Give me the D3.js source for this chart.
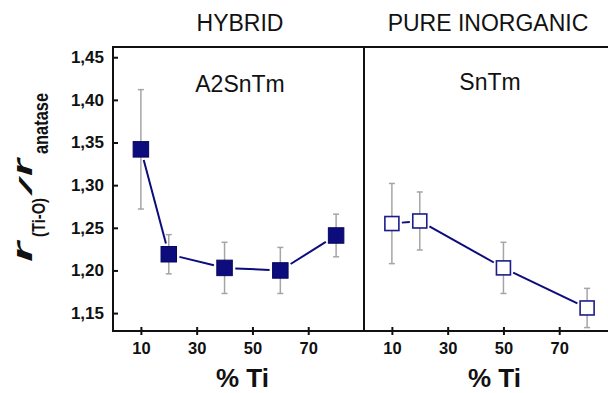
<!DOCTYPE html>
<html>
<head>
<meta charset="utf-8">
<script src="https://cdn.jsdelivr.net/npm/d3@7"></script>
<style>
  html, body { margin: 0; padding: 0; background: #fff; }
  svg { display: block; font-family: Arial, "Liberation Sans", sans-serif; }
</style>
</head>
<body>
<svg id="chart" width="608" height="393"></svg>
<script>
// ---- data ----
const hybridX = [10, 20, 40, 60, 80];
const hybridY = [1.342, 1.219, 1.203, 1.200, 1.241];
const hybridErr = [0.070, 0.023, 0.030, 0.027, 0.025];

const inorgX = [10, 20, 50, 80];
const inorgY = [1.255, 1.258, 1.203, 1.156];
const inorgErr = [0.047, 0.034, 0.030, 0.023];

const yTicks = [1.15, 1.20, 1.25, 1.30, 1.35, 1.40, 1.45];
const xTicks = [10, 30, 50, 70];
const panelTitles = ["HYBRID", "PURE INORGANIC"];
const sampleNames = ["A2SnTm", "SnTm"];
const xLabel = "% Ti";

(function () {
// ---- layout ----
const svg = d3.select("#chart");
const pLeft = 113, pMid = 364, pTop = 47, pBottom = 331;
const panelW = pMid - pLeft;

const y = d3.scaleLinear().domain([1.129, 1.462]).range([pBottom, pTop]);
const xL = d3.scaleLinear().domain([0, 90]).range([pLeft, pMid]);
const xR = d3.scaleLinear().domain([0, 90]).range([pMid, pMid + panelW]);

const navy = "#0c0c7c";
const locale = d3.formatLocale({decimal: ",", thousands: ".", grouping: [3], currency: ["", ""]});
const fmt = locale.format(".2f");

// ---- y axis ----
const yAxis = svg.append("g")
  .attr("transform", `translate(${pLeft},0)`)
  .call(d3.axisLeft(y).tickValues(yTicks).tickFormat(fmt).tickSize(-5).tickSizeOuter(0).tickPadding(9));
yAxis.select(".domain").remove();
yAxis.selectAll(".tick line").attr("stroke", "#111").attr("stroke-width", 2);
yAxis.selectAll(".tick text").attr("font-size", 17).attr("font-weight", "bold").attr("fill", "#111");

// ---- x axes ----
[xL, xR].forEach(xs => {
  const g = svg.append("g")
    .attr("transform", `translate(0,${pBottom})`)
    .call(d3.axisBottom(xs).tickValues(xTicks).tickSize(4).tickSizeOuter(0).tickPadding(7));
  g.select(".domain").remove();
  g.selectAll(".tick line").attr("stroke", "#111").attr("stroke-width", 2).attr("y1", -4);
  g.selectAll(".tick text").attr("font-size", 16.5).attr("font-weight", "bold").attr("fill", "#111");
});

// ---- frame ----
const frame = svg.append("g").attr("stroke", "#111").attr("stroke-width", 2).attr("fill", "none");
frame.append("line").attr("x1", pLeft).attr("x2", 608).attr("y1", pTop).attr("y2", pTop);
frame.append("line").attr("x1", pLeft).attr("x2", 608).attr("y1", pBottom).attr("y2", pBottom);
frame.append("line").attr("x1", pLeft).attr("x2", pLeft).attr("y1", pTop - 1).attr("y2", pBottom + 1);
frame.append("line").attr("x1", pMid).attr("x2", pMid).attr("y1", pTop).attr("y2", pBottom);

// ---- series ----
function drawSeries(xs, X, Y, E, filled, size) {
  const pts = X.map((v, i) => ({x: xs(v), y: y(Y[i]), lo: y(Y[i] - E[i]), hi: y(Y[i] + E[i])}));
  const g = svg.append("g");
  const eb = g.append("g").attr("stroke", "#a5a5a5").attr("stroke-width", 1.5);
  pts.forEach(p => {
    eb.append("line").attr("x1", p.x).attr("x2", p.x).attr("y1", p.hi).attr("y2", p.lo);
    eb.append("line").attr("x1", p.x - 3).attr("x2", p.x + 3).attr("y1", p.hi).attr("y2", p.hi);
    eb.append("line").attr("x1", p.x - 3).attr("x2", p.x + 3).attr("y1", p.lo).attr("y2", p.lo);
  });
  const h = size / 2, gap = 3;
  for (let i = 0; i < pts.length - 1; i++) {
    const a = pts[i], b = pts[i + 1];
    const dx = b.x - a.x, dy = b.y - a.y, L = Math.hypot(dx, dy);
    const ux = dx / L, uy = dy / L;
    const d = h / Math.max(Math.abs(ux), Math.abs(uy)) + gap;
    if (L > 2 * d) {
      g.append("line")
        .attr("x1", a.x + ux * d).attr("y1", a.y + uy * d)
        .attr("x2", b.x - ux * d).attr("y2", b.y - uy * d)
        .attr("stroke", navy).attr("stroke-width", 2);
    }
  }
  g.selectAll("rect.m").data(pts).enter().append("rect")
    .attr("x", p => p.x - h).attr("y", p => p.y - h)
    .attr("width", size).attr("height", size)
    .attr("fill", filled ? navy : "#fff")
    .attr("stroke", filled ? "#070760" : "#1c1c8a")
    .attr("stroke-width", filled ? 1 : 1.6);
}
drawSeries(xL, hybridX, hybridY, hybridErr, true, 15.5);
drawSeries(xR, inorgX, inorgY, inorgErr, false, 14);

// ---- texts ----
const txt = svg.append("g").attr("fill", "#111");
txt.append("text").attr("x", 240).attr("y", 30.5).attr("text-anchor", "middle").attr("font-size", 23).text(panelTitles[0]);
txt.append("text").attr("x", 488).attr("y", 30.5).attr("text-anchor", "middle").attr("font-size", 23).text(panelTitles[1]);
txt.append("text").attr("x", 240).attr("y", 91.5).attr("text-anchor", "middle").attr("font-size", 23).text(sampleNames[0]);
txt.append("text").attr("x", 490).attr("y", 90).attr("text-anchor", "middle").attr("font-size", 23).text(sampleNames[1]);
txt.append("text").attr("x", 242.5).attr("y", 387).attr("text-anchor", "middle").attr("font-size", 26).attr("font-weight", "bold").text(xLabel);
txt.append("text").attr("x", 494.5).attr("y", 387).attr("text-anchor", "middle").attr("font-size", 26).attr("font-weight", "bold").text(xLabel);

// ---- y label (rotated pieces) ----
const ylab = [
  {t: "r", X: 32, Y: 262, fs: 28, it: true, len: 20},
  {t: "(Ti-O)", X: 45, Y: 237, fs: 18.5, it: false, len: 39},
  {t: "/", X: 32, Y: 194, fs: 18, it: true, len: 14},
  {t: "r", X: 32, Y: 176, fs: 28, it: true, len: 17},
  {t: "anatase", X: 47.5, Y: 154, fs: 20, it: false, len: 61}
];
ylab.forEach(d => {
  txt.append("text")
    .attr("transform", `translate(${d.X},${d.Y}) rotate(-90)`)
    .attr("font-size", d.fs).attr("font-weight", "bold")
    .attr("font-style", d.it ? "italic" : "normal")
    .attr("textLength", d.len).attr("lengthAdjust", "spacingAndGlyphs")
    .text(d.t);
});
})();
</script>
</body>
</html>
